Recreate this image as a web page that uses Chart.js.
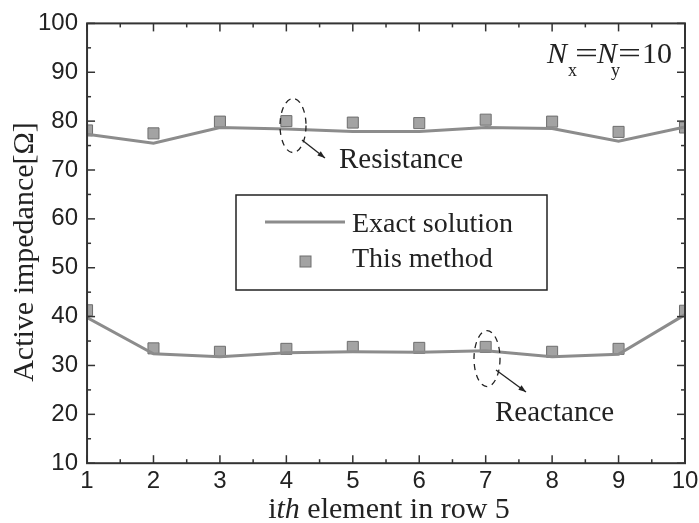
<!DOCTYPE html>
<html lang="en">
<head>
<meta charset="UTF-8">
<title>Active impedance</title>
<style>
  html, body { margin: 0; padding: 0; background: #fff; }
  #wrap { width: 699px; height: 523px; }
</style>
</head>
<body>
<div id="wrap"><canvas id="chart"></canvas></div>
<script src="https://cdn.jsdelivr.net/npm/chart.js@4/dist/chart.umd.min.js"></script>
<script>
// element index in row 5
const elements = [1, 2, 3, 4, 5, 6, 7, 8, 9, 10]
const resistanceExact  = [77.3, 75.5, 78.7, 78.4, 77.9, 77.9, 78.7, 78.5, 75.9, 78.8]
const resistanceMethod = [78.1, 77.5, 79.9, 80.0, 79.7, 79.6, 80.3, 79.9, 77.8, 78.7]
const reactanceExact   = [39.8, 32.4, 31.8, 32.6, 32.8, 32.7, 33.0, 31.8, 32.3, 40.4]
const reactanceMethod  = [41.3, 33.5, 32.8, 33.4, 33.8, 33.6, 33.8, 32.8, 33.4, 41.2]
const xTicks = [1, 2, 3, 4, 5, 6, 7, 8, 9, 10]
const yTicks = [10, 20, 30, 40, 50, 60, 70, 80, 90, 100]

const SERIF = '"Liberation Serif", "DejaVu Serif", serif'
const SANS = '"Liberation Sans", Arial, sans-serif'
const INK = '#222'
const LINE = '#8c8c8c'
const MARK = '#a3a3a3'
const MARK_EDGE = '#6e6e6e'

const pts = (ys) => elements.map((x, i) => ({ x, y: ys[i] }))
const lineSet = (ys) => ({
  data: pts(ys), borderColor: LINE, borderWidth: 3, pointRadius: 0,
  showLine: true, fill: false, tension: 0
})
const markSet = (ys) => ({
  data: pts(ys), showLine: false, pointStyle: 'rect', pointRadius: 7.8,
  backgroundColor: MARK, borderColor: MARK_EDGE, borderWidth: 1, clip: 0
})

const mids = (arr) => arr.slice(1).map((v, i) => (v + arr[i]) / 2)

const decor = {
  id: 'decor',
  afterDatasetsDraw(chart) {
    const { ctx, chartArea: a, scales: { x, y } } = chart
    const seg = (x1, y1, x2, y2) => { ctx.beginPath(); ctx.moveTo(x1, y1); ctx.lineTo(x2, y2); ctx.stroke() }
    ctx.save()

    // frame
    ctx.strokeStyle = '#333'
    ctx.lineWidth = 2
    ctx.strokeRect(a.left, a.top, a.right - a.left, a.bottom - a.top)

    // inward ticks, all four sides
    ctx.lineWidth = 1.5
    xTicks.forEach(v => { const p = x.getPixelForValue(v); seg(p, a.bottom, p, a.bottom - 8); seg(p, a.top, p, a.top + 8) })
    mids(xTicks).forEach(v => { const p = x.getPixelForValue(v); seg(p, a.bottom, p, a.bottom - 4); seg(p, a.top, p, a.top + 4) })
    yTicks.forEach(v => { const p = y.getPixelForValue(v); seg(a.left, p, a.left + 8, p); seg(a.right, p, a.right - 8, p) })
    mids(yTicks).forEach(v => { const p = y.getPixelForValue(v); seg(a.left, p, a.left + 4, p); seg(a.right, p, a.right - 4, p) })

    // axis titles
    ctx.fillStyle = INK
    ctx.textBaseline = 'alphabetic'
    ctx.font = '30px ' + SERIF
    ctx.save()
    ctx.translate(33, 252)
    ctx.rotate(-Math.PI / 2)
    ctx.textAlign = 'center'
    ctx.fillText('Active impedance[Ω]', 0, 0)
    ctx.restore()

    const parts = [['i', ''], ['th', 'italic '], [' element in row 5', '']]
    let total = 0
    parts.forEach(([t, st]) => { ctx.font = st + '30px ' + SERIF; total += ctx.measureText(t).width })
    let tx = 389 - total / 2
    ctx.textAlign = 'left'
    parts.forEach(([t, st]) => { ctx.font = st + '30px ' + SERIF; ctx.fillText(t, tx, 518); tx += ctx.measureText(t).width })

    // N_x = N_y = 10
    const nb = 63
    const wide = (t, px, w) => {
      ctx.save()
      ctx.font = '30px ' + SERIF
      const m = ctx.measureText(t).width
      ctx.translate(px, nb); ctx.scale(w / m, 1); ctx.fillText(t, 0, 0)
      ctx.restore()
    }
    ctx.font = 'italic 30px ' + SERIF
    ctx.fillText('N', 547, nb)
    ctx.fillText('N', 597, nb)
    ctx.font = '18px ' + SERIF
    ctx.fillText('x', 568, nb + 13)
    ctx.fillText('y', 611, nb + 13)
    wide('=', 575, 23)
    wide('=', 618, 23)
    ctx.font = '30px ' + SERIF
    ctx.fillText('10', 642, nb)

    // legend box
    ctx.lineWidth = 1.5
    ctx.strokeStyle = '#222'
    ctx.strokeRect(236, 195, 311, 95)
    ctx.strokeStyle = LINE
    ctx.lineWidth = 3
    seg(265, 222, 345, 222)
    ctx.fillStyle = MARK
    ctx.strokeStyle = MARK_EDGE
    ctx.lineWidth = 1
    ctx.fillRect(300, 256, 11, 11)
    ctx.strokeRect(300, 256, 11, 11)
    ctx.fillStyle = INK
    ctx.font = '28px ' + SERIF
    ctx.fillText('Exact solution', 352, 232)
    ctx.fillText('This method', 352, 267)

    // annotations: dashed ellipse + arrow + label
    const note = (cx, cy, rx, ry, ax1, ay1, ax2, ay2, label, lx, ly) => {
      const px = x.getPixelForValue(cx), py = y.getPixelForValue(cy)
      ctx.strokeStyle = '#222'
      ctx.lineWidth = 1.3
      ctx.setLineDash([6, 5])
      ctx.beginPath(); ctx.ellipse(px, py, rx, ry, 0, 0, Math.PI * 2); ctx.stroke()
      ctx.setLineDash([])
      seg(ax1, ay1, ax2, ay2)
      const ang = Math.atan2(ay2 - ay1, ax2 - ax1)
      ctx.fillStyle = '#222'
      ctx.beginPath()
      ctx.moveTo(ax2, ay2)
      ctx.lineTo(ax2 - 8 * Math.cos(ang - 0.35), ay2 - 8 * Math.sin(ang - 0.35))
      ctx.lineTo(ax2 - 8 * Math.cos(ang + 0.35), ay2 - 8 * Math.sin(ang + 0.35))
      ctx.closePath(); ctx.fill()
      ctx.fillStyle = INK
      ctx.font = '29px ' + SERIF
      ctx.fillText(label, lx, ly)
    }
    note(4.1, 79.1, 13, 27, 302, 140, 325, 158, 'Resistance', 339, 168)
    note(7.02, 31.4, 13, 28, 496, 370, 526, 392, 'Reactance', 495, 421)

    ctx.restore()
  }
}

new Chart(document.getElementById('chart'), {
  type: 'scatter',
  data: {
    datasets: [
      lineSet(resistanceExact),
      lineSet(reactanceExact),
      markSet(resistanceMethod),
      markSet(reactanceMethod)
    ]
  },
  options: {
    responsive: true,
    maintainAspectRatio: false,
    animation: false,
    layout: { padding: { left: 29, right: 0, top: 22, bottom: 23 } },
    plugins: { legend: { display: false }, tooltip: { enabled: false } },
    scales: {
      x: {
        type: 'linear', min: 1, max: 10,
        afterBuildTicks: axis => { axis.ticks = xTicks.map(v => ({ value: v })) },
        afterFit: axis => { axis.paddingRight = 14 },
        grid: { display: false, drawTicks: false },
        border: { display: false },
        ticks: { font: { family: SANS, size: 24 }, color: INK, padding: 4, maxRotation: 0 }
      },
      y: {
        type: 'linear', min: 10, max: 100,
        afterBuildTicks: axis => { axis.ticks = yTicks.map(v => ({ value: v })) },
        grid: { display: false, drawTicks: false },
        border: { display: false },
        ticks: { font: { family: SANS, size: 24 }, color: INK, padding: 9 }
      }
    }
  },
  plugins: [decor]
})
</script>
</body>
</html>
